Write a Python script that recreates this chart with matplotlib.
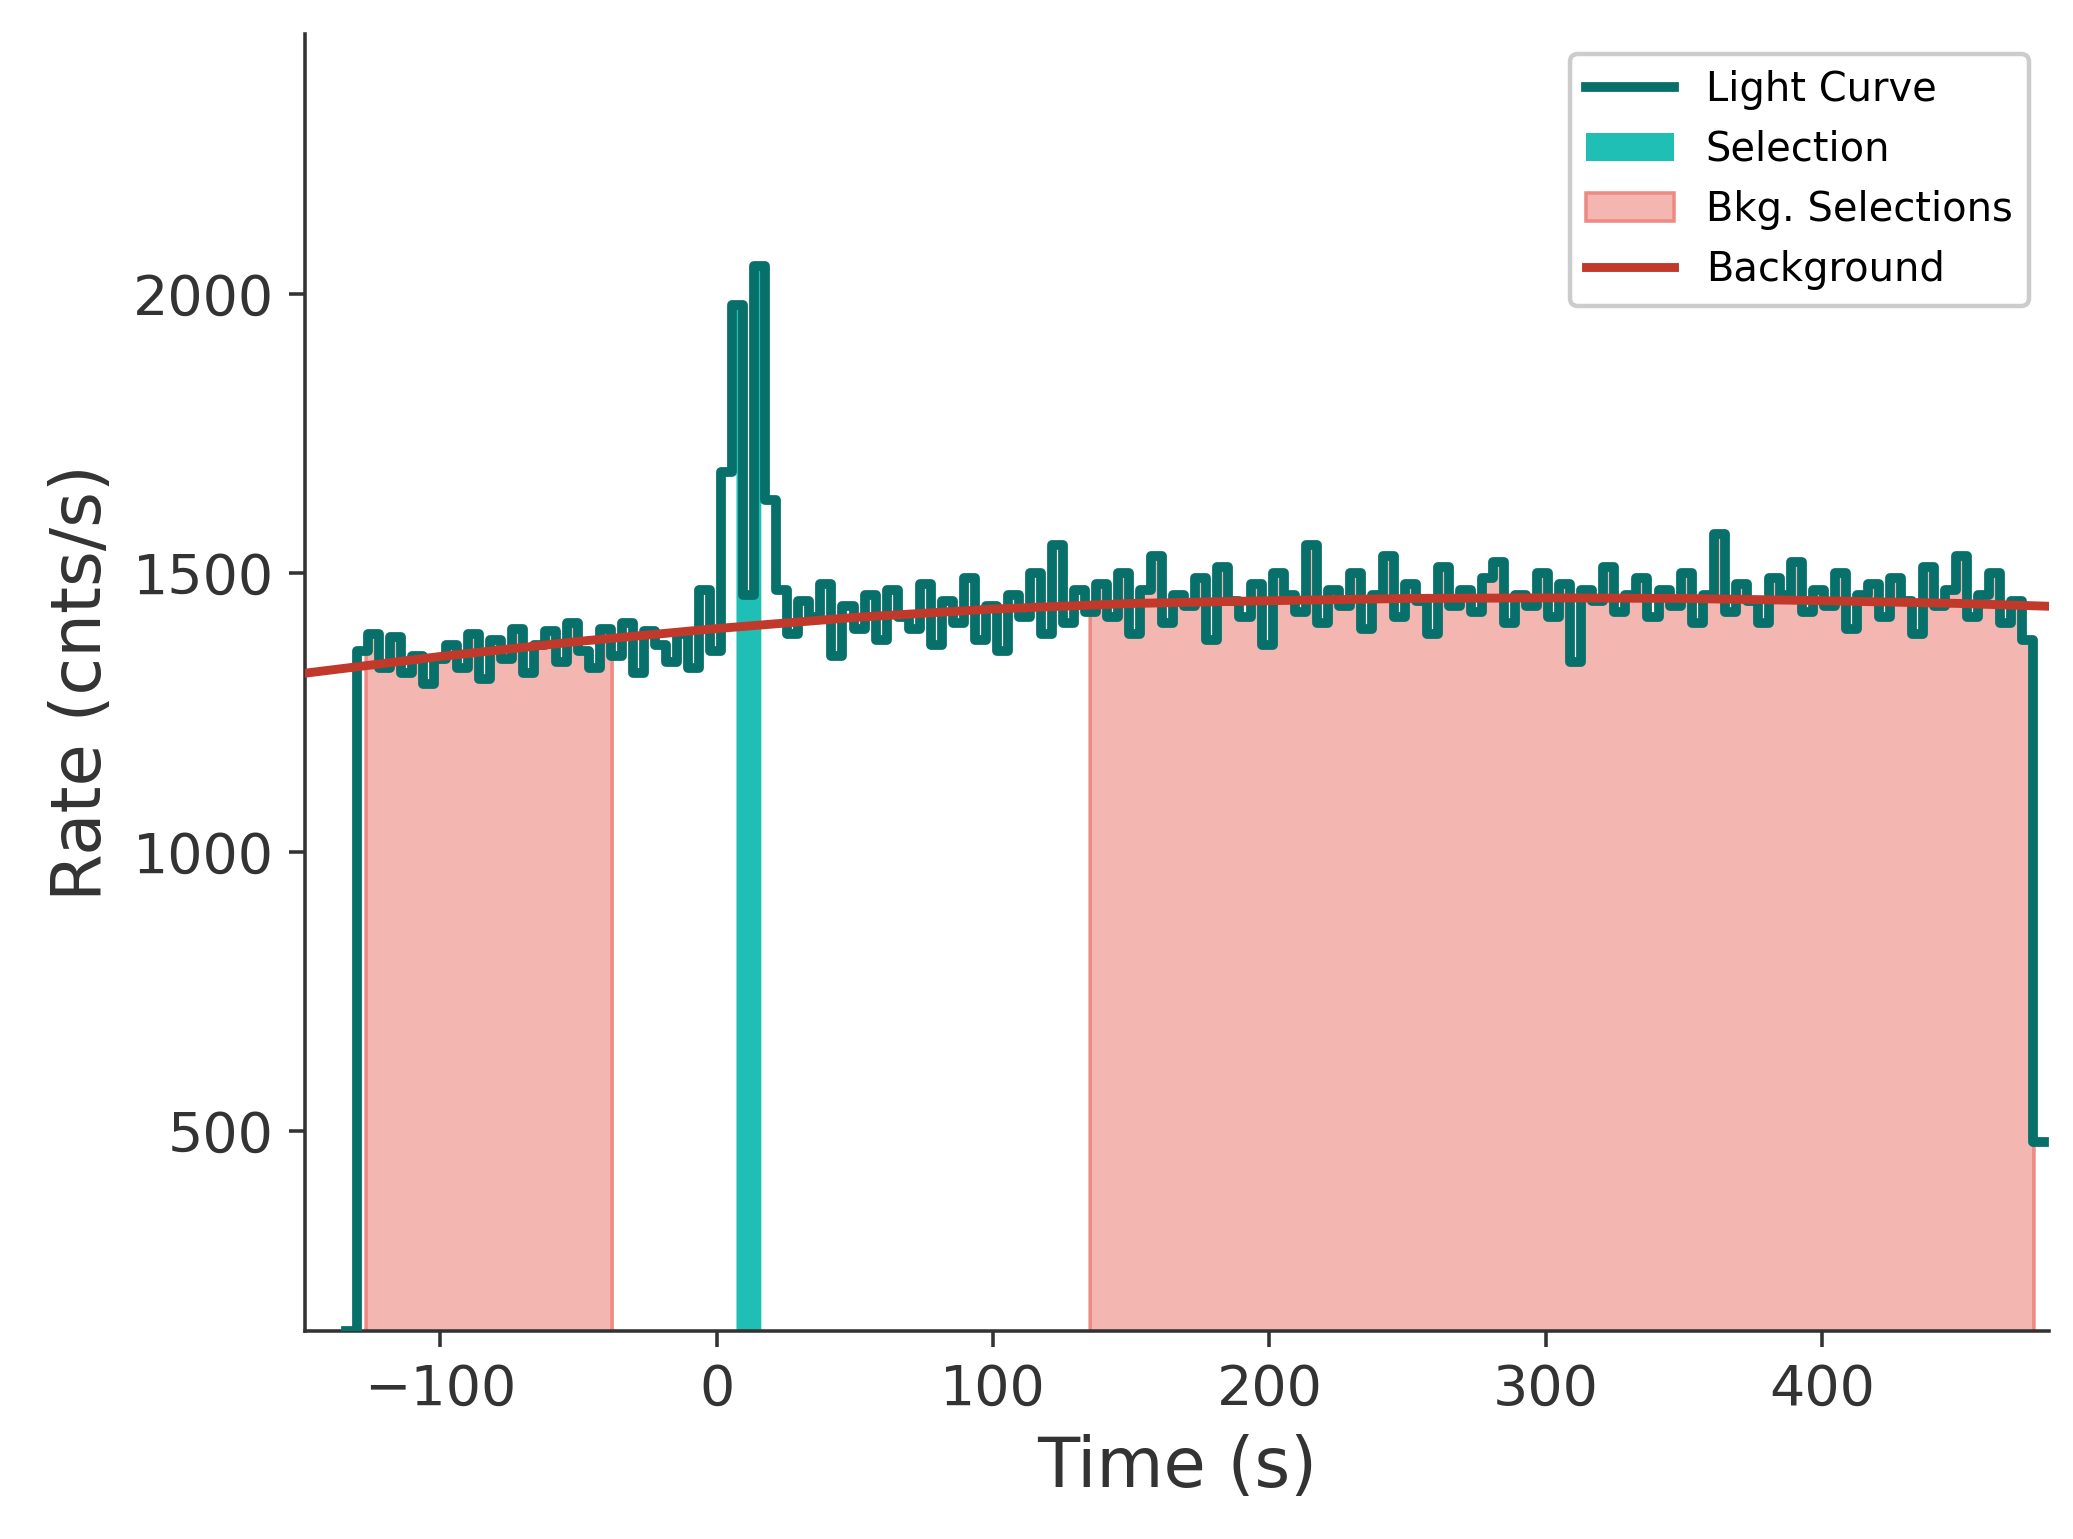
import numpy as np
import matplotlib
matplotlib.use("Agg")
import matplotlib.pyplot as plt

# ── data ──────────────────────────────────────────────────────────────
T0 = -134.0
BIN = 3.99
rates = [141,
         1360, 1390, 1330, 1385, 1320, 1350, 1300, 1345,
         1370, 1330, 1390, 1310, 1380, 1345, 1400, 1320, 1370, 1395, 1340, 1410, 1360, 1330, 1400,
         1350, 1410, 1320, 1395, 1370, 1340, 1390, 1330, 1470, 1360,
         1680, 1980, 1460, 2050, 1630,
         1470, 1390, 1450, 1420, 1480, 1350, 1440, 1400, 1460, 1380, 1470, 1420, 1400, 1480, 1370,
         1450, 1410, 1490, 1380, 1440, 1360, 1460, 1420, 1500, 1390, 1550, 1410, 1470, 1430,
         1480, 1420, 1500, 1390, 1470, 1530, 1410, 1460, 1440, 1490, 1380, 1510, 1450, 1420, 1480,
         1370, 1500, 1460, 1430, 1550, 1410, 1470, 1440, 1500, 1400, 1460, 1530, 1420, 1480, 1450,
         1390, 1510, 1440, 1470, 1430, 1490, 1520, 1410, 1460, 1440, 1500, 1420, 1480, 1340, 1470,
         1450, 1510, 1430, 1460, 1490, 1420, 1470, 1440, 1500, 1410, 1460, 1570, 1430, 1480, 1450,
         1410, 1490, 1460, 1520, 1430, 1470, 1440, 1500, 1400, 1460, 1480, 1420, 1490, 1450, 1390,
         1510, 1440, 1470, 1530, 1420, 1460, 1500, 1410, 1450, 1380,
         480]
bkg_t = [-149, -100, -50, 0, 50, 100, 150, 200, 250, 300, 350, 400, 450, 482]
bkg_r = [1320, 1350, 1377, 1400, 1420, 1435, 1445, 1450, 1454, 1455, 1454, 1450, 1445, 1440]
sel = (7, 16)
bkg_sel = [(-127, -38), (135, 480)]

rates = np.array(rates, float)
edges = T0 + BIN * np.arange(len(rates) + 1)

def lc_at(x):
    i = np.clip(np.searchsorted(edges, x, "right") - 1, 0, len(rates) - 1)
    return rates[i]

# ── plot ──────────────────────────────────────────────────────────────
fig = plt.figure(figsize=(6.48, 4.81), dpi=320)
ax = fig.add_axes([0.147, 0.135, 0.841, 0.843])
TXT = "#333333"

ax.step(edges, np.append(rates, rates[-1]), where="post", color="#07706a",
        lw=2.2, label="Light Curve", zorder=3)
xs = np.linspace(*sel, 200)
ax.fill_between(xs, 0, lc_at(xs), color="#20bfb6", label="Selection", zorder=2, lw=0)
for k, (a, b) in enumerate(bkg_sel):
    xg = np.linspace(a, min(b, edges[-2] - 0.01), 2000)
    ax.fill_between(xg, 0, lc_at(xg), facecolor="#f4b6b0", edgecolor="#ee8a84",
                    lw=0.8, label="Bkg. Selections" if k == 0 else None, zorder=1)
ax.plot(bkg_t, bkg_r, color="#c0392b", lw=2.0, label="Background", zorder=4)

ax.set_xlim(-149, 482)
ax.set_ylim(141, 2466)
ax.set_xticks([-100, 0, 100, 200, 300, 400])
ax.set_yticks([500, 1000, 1500, 2000])
ax.set_xlabel("Time (s)", fontsize=15.5, color=TXT)
ax.set_ylabel("Rate (cnts/s)", fontsize=15.5, color=TXT)
ax.tick_params(labelsize=12.5, colors=TXT, direction="out")
for s in ("top", "right"):
    ax.spines[s].set_visible(False)
for s in ("left", "bottom"):
    ax.spines[s].set_color(TXT)
ax.legend(loc="upper right", fontsize=9, framealpha=1, handlelength=2.2)

fig.savefig("out.png", dpi=320)
